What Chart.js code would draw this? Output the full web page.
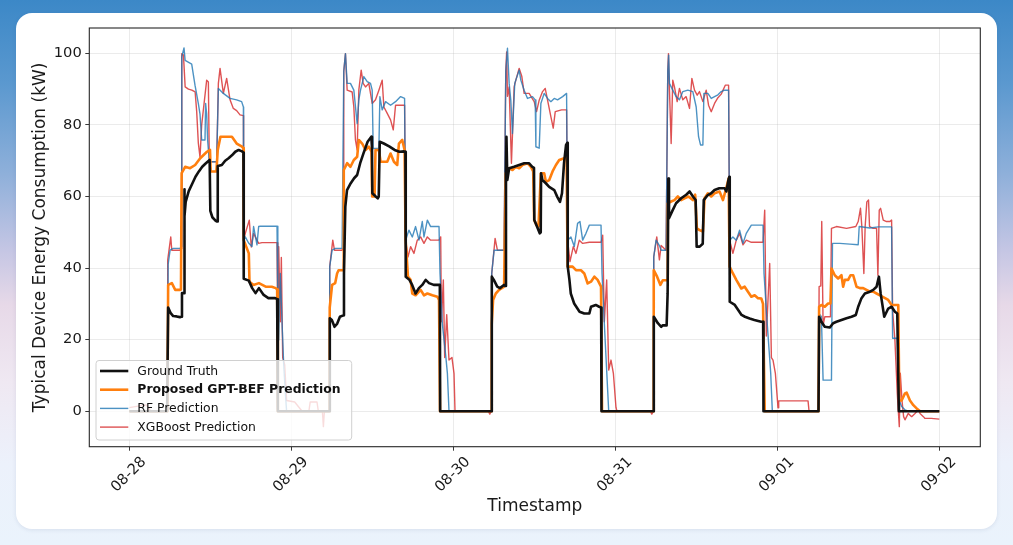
<!DOCTYPE html>
<html>
<head>
<meta charset="utf-8">
<script src="https://cdn.jsdelivr.net/npm/chart.js@4.4.0/dist/chart.umd.min.js"></script>
<style>
html,body{margin:0;padding:0;width:1013px;height:545px;overflow:hidden;}
body{background:linear-gradient(180deg,#3c88c7 0%,#5a98cf 15%,#8fb0da 32%,#c5c6e4 46%,#e7d9e8 56%,#efe8f2 70%,#ecf1fb 85%,#eaf3fc 100%);}
.card{position:absolute;left:16px;top:13px;width:981px;height:516px;background:#ffffff;border-radius:16px;box-shadow:0 1px 4px rgba(40,60,110,0.10);}
#c{position:absolute;left:0;top:0;}
</style>
</head>
<body>
<div class="card"></div>
<canvas id="c" width="1013" height="545"></canvas>
<script>
// Time axis: hours since 08-28 00:00
const xTickHours = [0, 24, 48, 72, 96, 120];
const xTickLabels = ['08-28', '08-29', '08-30', '08-31', '09-01', '09-02'];
const yTicks = [0, 20, 40, 60, 80, 100];
const seriesLabels = ['Ground Truth', 'Proposed GPT-BEF Prediction', 'RF Prediction', 'XGBoost Prediction'];

// [hour, kW]
const groundTruth = [
[0,0],[5.6,0],[5.75,29],[6.1,27.5],[6.5,26.6],[7.0,26.5],[7.5,26.3],[7.7,26.4],[7.8,33],[8.1,33],[8.15,62],[8.2,54.5],[8.35,58.5],[8.8,61.5],[9.3,63.5],[9.8,65.5],[10.3,67],[10.8,68.3],[11.3,69.2],[11.9,70.2],[12.0,56],[12.3,54.2],[12.8,53.2],[13.0,53],[13.1,68.5],[13.7,68.8],[14.2,70],[14.7,70.7],[15.2,71.5],[15.7,72.5],[16.2,73],[16.7,72.6],[16.9,72.3],[16.95,37],[17.7,36.5],[18.2,34.4],[18.7,33],[19.2,34.4],[19.9,32.5],[20.6,31.6],[21.6,31.6],[21.9,31.3],[22.0,0],
[29.6,0],[29.7,26],[30.0,25.5],[30.4,23.6],[30.8,24.5],[31.2,26.4],[31.7,26.8],[31.8,38.5],[32.0,57.2],[32.25,61.8],[32.8,63.7],[33.3,65.1],[33.75,66],[34.2,69.3],[34.7,72.1],[35.3,75.3],[35.85,76.7],[35.95,73.5],[36.0,60.9],[36.5,60],[36.8,59.5],[36.95,60],[37.1,75.3],[37.7,74.8],[38.5,74],[39.3,73],[40.0,72.5],[40.7,72.6],[40.9,72.5],[40.95,37.6],[41.5,36.7],[41.9,35.3],[42.4,32.9],[42.9,34.4],[43.4,35.3],[43.9,36.7],[44.4,35.8],[45.1,35.3],[45.9,35.3],[46.0,35],[46.05,0],
[53.6,0],[53.7,37.6],[54.0,36.7],[54.5,34.8],[54.9,34.4],[55.5,35.3],[55.7,35],[55.8,66],[55.87,76.7],[56.0,64.6],[56.27,67.9],[57.0,68.3],[57.75,68.8],[58.5,69.3],[59.2,69.3],[59.7,68.3],[59.95,68],[60.0,53.4],[60.5,51.1],[60.8,49.7],[60.95,50],[61.0,66.5],[61.2,64.6],[61.7,63.7],[62.2,62.7],[62.95,61.8],[63.4,59.9],[63.8,58.5],[64.1,60.9],[64.4,69.3],[64.7,74.4],[64.9,75],[64.95,40.4],[65.2,36.7],[65.4,32.9],[65.9,30.1],[66.7,27.8],[67.4,27.3],[68.15,27.3],[68.4,29.2],[69.1,29.7],[69.6,29.2],[69.9,29],[69.95,0],
[77.6,0],[77.7,26.4],[78.3,24.6],[78.8,23.6],[79.0,24],[79.6,24],[79.75,33],[79.85,65],[79.95,53.9],[80.5,56.2],[81.0,58.1],[81.75,59.5],[82.5,60.5],[83.0,61.4],[83.5,60],[83.9,59],[84.05,46],[84.5,46],[84.95,46.8],[85.1,59],[85.7,60.4],[86.2,60.9],[86.7,61.8],[87.4,62.3],[88.2,62.3],[88.45,61.4],[88.8,65],[88.9,65.5],[88.95,30.6],[89.7,29.7],[90.2,28.3],[90.7,26.9],[91.2,26.4],[91.9,25.9],[92.6,25.5],[93.6,25],[93.9,25],[93.95,0],
[102.1,0],[102.19,26.4],[102.53,25],[103.03,23.6],[103.77,23.4],[104.27,24.6],[104.76,25],[105.5,25.5],[106.25,26],[106.99,26.4],[107.63,26.9],[107.98,29.2],[108.47,31.6],[108.97,32.9],[109.71,33.4],[110.21,33.9],[110.7,34.8],[111.05,37.6],[111.3,33],[111.84,26.4],[112.43,28.7],[112.93,29.2],[113.42,27.8],[113.77,27.3],[114.0,0],[120,0]
];

const gptBef = [
[0,0],[5.65,0],[5.75,35.3],[6.3,35.8],[6.8,33.9],[7.5,33.9],[7.65,34],[7.75,66.5],[8.27,68.3],[9.0,67.9],[9.75,68.8],[10.5,70.7],[11.5,72.5],[11.95,73],[12.05,67],[12.9,67],[13.1,73],[13.5,76.7],[15.2,76.7],[15.9,74.8],[16.7,73.9],[16.9,73.5],[16.95,47.8],[17.7,44.1],[17.8,36.2],[18.4,35.3],[19.2,35.8],[20.2,34.8],[21.1,34.8],[21.7,34.4],[21.9,34],[22.0,0],
[29.65,0],[29.69,29],[30.04,35.3],[30.5,35.8],[30.78,38.5],[31.0,39.4],[31.67,39.4],[31.77,67.4],[32.27,69.3],[32.76,68.3],[33.26,70.2],[33.75,71.1],[34.0,75.8],[34.49,74.8],[34.99,73],[35.48,73.9],[35.88,72.5],[35.98,60],[36.33,60],[36.47,73],[36.97,73],[37.22,69.7],[38.21,69.7],[38.7,72],[39.2,69.7],[39.69,68.8],[39.94,74.8],[40.43,75.8],[40.78,73],[40.93,47.8],[41.28,37.6],[41.67,36.7],[41.92,32.9],[42.41,32.4],[43.16,33.9],[43.65,32.4],[44.15,32.9],[44.89,32.4],[45.63,32],[45.88,31.1],[46.03,0],
[53.65,0],[53.69,24.5],[53.89,31.1],[54.29,32.9],[54.78,33.9],[55.52,34.8],[55.77,66.5],[56.27,67.9],[56.76,67.4],[57.26,68.3],[57.75,67.9],[58.25,68.8],[58.99,69.3],[59.48,68.3],[59.83,67],[59.98,53.4],[60.33,52],[60.62,51.6],[60.97,66.5],[61.46,66.5],[61.71,64.1],[62.21,64.6],[62.7,67],[63.2,68.8],[63.69,70.2],[64.43,70.7],[64.78,70.7],[64.93,40.4],[65.67,40.4],[66.17,39.4],[66.91,39.4],[67.4,38.5],[67.9,35.7],[68.39,36.2],[68.89,37.6],[69.38,36.7],[69.88,34.8],[70.03,0],
[77.65,0],[77.69,39.4],[78.19,37.6],[78.68,35.3],[79.03,36.6],[79.67,36.6],[79.77,58.1],[80.27,58.6],[80.76,59],[81.26,60],[81.75,59],[82.25,59.5],[82.84,60],[83.48,59],[83.83,60.5],[84.08,51.1],[84.47,50.6],[84.97,50.2],[85.22,59.5],[85.71,60.9],[86.21,60],[86.7,60.9],[87.44,61.4],[87.94,59],[88.43,62.3],[88.78,65],[88.93,40.4],[89.42,38.5],[89.92,36.7],[90.66,34.3],[91.16,34.8],[91.65,33.4],[92.15,32],[92.64,32.4],[93.14,31.6],[93.63,31.5],[93.88,30],[94.13,0],
[102.1,0],[102.19,29.2],[102.53,29.7],[103.03,29.2],[103.52,30.1],[103.87,30.1],[104.02,39.9],[104.51,38],[105.01,37.1],[105.5,38],[105.75,34.8],[106.0,36.7],[106.49,36.7],[106.84,38],[107.24,38],[107.73,34.8],[108.23,34.4],[108.72,34.4],[109.21,33.9],[109.71,33.4],[110.21,33.4],[110.7,32.9],[111.2,32.4],[111.69,31.9],[112.43,31.1],[112.93,29.7],[113.42,29.7],[113.92,29.7],[114.07,3],[114.41,3],[114.91,5],[115.16,5.2],[115.65,3],[116.15,1.7],[116.64,0.8],[117.14,0],[120,0]
];

const rfPred = [
[0,0],[5.65,0],[5.75,41],[6.04,45],[6.5,45.5],[7.52,45.5],[7.67,46],[7.77,99],[8.1,101.5],[8.27,98],[9.24,97],[9.73,91.1],[10.22,86],[10.47,83],[10.72,75.8],[11.21,75.8],[11.3,86],[11.46,83],[11.6,75.8],[11.85,69.7],[12.94,69.7],[13.19,90.2],[13.93,88.8],[14.92,87.4],[15.9,87],[16.64,86.5],[16.9,85],[16.93,47.8],[17.18,48.7],[17.67,47],[18.17,46],[18.41,51.6],[18.91,46.5],[19.16,51.6],[19.4,51.7],[21.88,51.7],[22.0,30],[22.13,19.9],[22.37,38.5],[22.62,25],[22.87,13],[23.12,5],[23.3,0],
[29.65,0],[29.69,40.4],[30.04,45],[30.53,45.5],[31.52,45.5],[31.77,95],[32.02,99.9],[32.27,91.6],[32.76,91.6],[33.26,89.7],[33.75,80.4],[34.0,87],[34.25,89.7],[34.74,93.5],[35.24,92.1],[35.73,91.6],[35.98,89.7],[36.13,73.4],[36.97,73.5],[37.12,87.9],[37.46,84.2],[37.96,86.5],[38.7,85.5],[39.44,86.5],[40.19,87.9],[40.78,87.4],[40.93,47.8],[41.42,50.6],[41.92,48.7],[42.41,51.6],[42.91,47.8],[43.4,53],[43.65,48.7],[44.15,53.4],[44.64,51.6],[45.88,51.6],[46.03,38.5],[46.37,24.5],[46.9,15],[47.12,10.6],[47.36,0],
[53.65,0],[53.69,38.5],[54.04,45],[55.52,45],[55.77,95],[56.02,101.4],[56.27,91.6],[56.51,87],[56.76,77.6],[57.1,91.6],[57.75,95.3],[58.0,92.5],[58.49,89.7],[58.99,87.4],[59.73,87.9],[60.13,87],[60.23,73.9],[60.72,73.5],[60.97,86],[61.46,88.8],[61.96,87.4],[62.45,86.5],[62.95,87.4],[63.44,87],[64.19,87.9],[64.78,88.8],[64.93,47.8],[65.42,48.7],[65.92,46],[66.41,52.5],[66.76,53],[67.16,47.8],[67.65,49.7],[68.15,52],[69.88,52],[70.03,38.5],[70.37,24.5],[71.02,0],
[77.65,0],[77.69,43.1],[78.04,47.8],[78.53,46.3],[78.78,45],[79.52,45],[79.77,95],[79.9,99.5],[80.02,91.6],[80.51,89.7],[81.01,87.9],[81.5,87],[82.0,89.3],[82.74,89.7],[83.48,89.3],[83.98,85],[84.33,76.7],[84.62,74.4],[84.97,74.4],[85.12,88.8],[85.71,88.8],[86.21,87.4],[86.7,87.9],[87.2,88.4],[87.69,89.3],[88.19,89.7],[88.78,89.7],[88.93,47.8],[89.42,48.7],[89.92,47.8],[90.41,50.6],[90.91,46.9],[91.4,49.7],[92.15,52],[93.88,52],[94.03,38.5],[94.52,24],[95.02,10.6],[95.26,0],
[102.1,0],[102.19,27.3],[102.53,26.4],[102.78,8.7],[104.02,8.7],[104.17,46.9],[105.26,46.9],[106.74,46.7],[107.98,46.5],[108.13,51.6],[109.71,51.2],[110.95,51.5],[112.93,51.5],[113.08,20.4],[113.77,20.4],[114.07,3],[114.41,1.3],[114.91,0.4],[115.4,0],[120,0]
];

const xgbPred = [
[0,1],[1.5,1.5],[2.5,1.8],[3.2,0],[5.6,0],[5.69,42.3],[6.14,48.7],[6.29,45],[7.52,45],[7.67,45.5],[7.77,99.9],[8.02,99.5],[8.27,90.6],[8.76,90],[9.26,89.7],[9.75,89.2],[9.98,83.7],[10.22,75],[10.47,71],[10.72,80],[11.46,92.5],[11.71,92],[11.85,69.7],[12.94,69.7],[13.19,91.6],[13.44,95.8],[13.93,88.8],[14.42,93],[14.92,87],[15.41,84.6],[15.9,84],[16.4,82.8],[16.9,82.6],[16.93,47.8],[17.18,49.7],[17.77,53.4],[18.07,45.9],[18.41,49.7],[18.91,47.8],[19.16,46.9],[19.65,47.1],[21.88,47.1],[22.0,20],[22.13,46],[22.37,25],[22.52,43],[22.72,15],[23.02,13],[23.3,3],[24.5,2.6],[25.6,0],[26.6,0],[26.8,2.6],[27.8,2.6],[28.0,0],[28.6,0],[28.75,-4.3],[28.9,0],[29.65,0],
[29.69,40.4],[30.14,47.8],[30.39,45],[31.52,45],[31.67,45.5],[31.77,95],[32.02,99.9],[32.27,89.7],[33.01,89.2],[33.26,85],[33.5,75.8],[33.75,73],[34.0,89.7],[34.35,95.3],[34.64,91.6],[34.99,90.6],[35.48,91.6],[35.98,86],[36.47,87],[36.97,89.7],[37.46,92.5],[37.71,85],[38.21,83.2],[38.7,81.4],[39.1,78.6],[39.44,85.5],[40.19,85.5],[40.78,85.5],[40.93,47.8],[41.28,43.1],[41.67,46],[42.17,44.1],[42.66,47.8],[43.16,48.7],[43.65,46.9],[44.15,48.7],[44.64,47.8],[45.88,47.8],[46.13,48.7],[46.23,25],[46.52,36.7],[46.72,15],[47.02,27],[47.36,14.3],[47.8,15],[48.1,10.6],[48.25,0],[53.2,0],[53.4,-0.8],[53.6,0],
[53.69,38.5],[54.19,48.3],[54.53,45],[55.52,45],[55.77,95],[55.9,100.4],[56.02,88],[56.27,90.6],[56.61,69.3],[57.01,90.6],[57.26,92.5],[57.75,95.8],[58.15,93.5],[58.49,88.8],[59.23,88.8],[59.98,86.5],[60.33,83.7],[60.72,86.9],[61.22,89.3],[61.61,90.2],[61.96,86.9],[62.45,82.3],[62.8,79.1],[63.1,83.7],[64.04,84.2],[64.78,84.2],[64.93,47.8],[65.28,41.8],[65.77,46],[66.17,44.1],[66.66,47.8],[67.16,46.9],[68.15,47.2],[69.88,47.2],[70.13,49.2],[70.37,25],[70.72,36.7],[71.02,11.5],[71.36,14.3],[71.71,10.6],[72.1,1],[72.25,0],[77.2,0],[77.4,-0.8],[77.65,0],
[77.69,43.1],[78.14,48.7],[78.53,42.3],[78.78,46.3],[79.52,45],[79.77,95],[79.87,99.9],[80.02,89.7],[80.27,74.8],[80.51,92.5],[80.76,90.6],[81.16,86.5],[81.5,90.2],[82.0,87],[82.49,87.9],[82.99,84.6],[83.34,93],[83.73,89.7],[84.13,88.3],[84.47,89.3],[84.97,86.5],[85.46,89.7],[85.81,85.5],[86.21,83.7],[86.7,86],[87.2,87.6],[87.69,88.6],[88.29,91.1],[88.78,91.1],[88.93,47.8],[89.42,44.1],[89.92,47.8],[90.41,49.7],[90.91,46.5],[91.4,47.8],[92.15,47.2],[93.88,47.2],[94.13,56.2],[94.37,21],[94.87,41.3],[95.12,15],[95.36,14.3],[95.71,10.6],[96.1,1],[96.2,2.9],[100.55,2.9],[100.7,0],[102.1,0],
[102.19,34.8],[102.44,35],[102.58,53],[102.78,24],[103.03,26.4],[103.87,26.4],[104.02,51.1],[104.76,51.6],[106.25,51.1],[107.63,51.6],[107.98,53],[108.32,56.7],[108.52,51.6],[108.82,38.5],[109.01,51.6],[109.26,58.5],[109.51,59],[109.66,51.6],[110.21,51.1],[110.7,51.1],[110.9,38],[111.1,56.2],[111.3,56.7],[111.69,53.4],[112.18,53],[112.68,53],[112.93,53.4],[113.08,28],[113.42,19.9],[113.77,5],[114.07,-4.3],[114.22,10.6],[114.47,3],[114.71,-1.5],[114.91,-2.4],[115.4,-0.6],[115.9,-1.5],[116.4,-0.6],[116.9,0.4],[117.14,-0.6],[117.64,-1.5],[117.88,-2],[118.8,-2],[120,-2.2]
];

const toXY = arr => arr.map(p => ({x: p[0], y: p[1]}));
const FONT = '"DejaVu Sans", "Liberation Sans", sans-serif';

const decor = {
  id: 'decor',
  afterDraw(chart) {
    const {ctx, chartArea: a, scales: {x}} = chart;
    ctx.save();
    // frame (spines)
    ctx.strokeStyle = '#262626';
    ctx.lineWidth = 1.1;
    ctx.strokeRect(a.left, a.top, a.right - a.left, a.bottom - a.top);
    // rotated x tick labels
    ctx.fillStyle = '#1a1a1a';
    ctx.font = '14.7px ' + FONT;
    ctx.textAlign = 'center';
    ctx.textBaseline = 'middle';
    xTickHours.forEach((h, i) => {
      const px = x.getPixelForValue(h);
      ctx.save();
      ctx.translate(px - 0.5, a.bottom + 28);
      ctx.rotate(-Math.PI / 4);
      ctx.fillText(xTickLabels[i], 0, 0);
      ctx.restore();
    });
    // legend
    const L = {x: 96, y: 360.5, w: 255.7, h: 79.5, r: 3};
    ctx.beginPath();
    ctx.roundRect(L.x, L.y, L.w, L.h, L.r);
    ctx.fillStyle = 'rgba(255,255,255,0.8)';
    ctx.fill();
    ctx.strokeStyle = '#d0d0d0';
    ctx.lineWidth = 1;
    ctx.stroke();
    chart.data.datasets.forEach((ds, i) => {
      const y = 371 + i * 18.7;
      ctx.beginPath();
      ctx.moveTo(100, y);
      ctx.lineTo(128.3, y);
      ctx.strokeStyle = ds.borderColor;
      ctx.lineWidth = ds.borderWidth;
      ctx.stroke();
      ctx.fillStyle = '#111111';
      ctx.font = (i === 1 ? 'bold ' : '') + '12.4px ' + FONT;
      ctx.textAlign = 'left';
      ctx.textBaseline = 'middle';
      ctx.fillText(ds.label, 137.3, y + 0.5);
    });
    ctx.restore();
  }
};

const gridCol = 'rgba(176,176,176,0.32)';

new Chart(document.getElementById('c'), {
  type: 'line',
  data: {
    datasets: [
      {label: seriesLabels[0], data: toXY(groundTruth), borderColor: '#111111', borderWidth: 2.6},
      {label: seriesLabels[1], data: toXY(gptBef), borderColor: '#ff7f0e', borderWidth: 2.6},
      {label: seriesLabels[2], data: toXY(rfPred), borderColor: 'rgba(31,119,180,0.8)', borderWidth: 1.4},
      {label: seriesLabels[3], data: toXY(xgbPred), borderColor: 'rgba(214,39,40,0.8)', borderWidth: 1.4}
    ].map(d => Object.assign(d, {pointRadius: 0, tension: 0, fill: false, borderJoinStyle: 'round', borderCapStyle: 'butt'}))
  },
  options: {
    responsive: false,
    animation: false,
    events: [],
    layout: {padding: {left: 0, top: 28, right: 32.7, bottom: 0}},
    plugins: {legend: {display: false}, tooltip: {enabled: false}},
    scales: {
      x: {
        type: 'linear',
        min: -5.93,
        max: 126.07,
        afterBuildTicks: s => { s.ticks = xTickHours.map(v => ({value: v})); },
        afterFit: s => { s.height = 98.3; },
        ticks: {display: false},
        grid: {color: gridCol, lineWidth: 0.8, tickColor: '#222222', tickLength: 4, tickWidth: 0.9},
        border: {display: false},
        title: {display: true, text: 'Timestamp', color: '#1a1a1a', font: {family: FONT, size: 17}, padding: {top: 0, bottom: 27.8}}
      },
      y: {
        type: 'linear',
        min: -9.9,
        max: 107.07,
        afterBuildTicks: s => { s.ticks = yTicks.map(v => ({value: v})); },
        afterFit: s => { s.width = 89.3; },
        ticks: {color: '#1a1a1a', font: {family: FONT, size: 14.7}, padding: 3.5},
        grid: {color: gridCol, lineWidth: 0.8, tickColor: '#222222', tickLength: 4, tickWidth: 0.9},
        border: {display: false},
        title: {display: true, text: 'Typical Device Energy Consumption (kW)', color: '#1a1a1a', font: {family: FONT, size: 17}, padding: {top: 30.8, bottom: 0}}
      }
    }
  },
  plugins: [decor]
});
</script>
</body>
</html>
